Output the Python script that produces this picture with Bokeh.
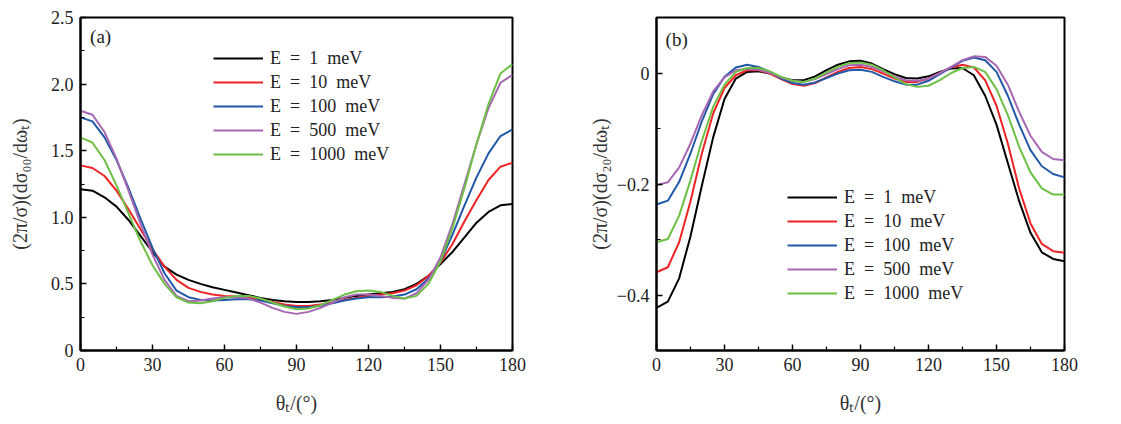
from bokeh.plotting import figure
from bokeh.layouts import row
from bokeh.models import FixedTicker, Legend, LegendItem, Label, Range1d
from bokeh.embed import file_html
from bokeh.resources import INLINE

# ---------------- data ----------------
theta = list(range(0, 181, 5))
SP = "\u2002"
labels = ["E" + SP + "=" + SP + "1\u2002meV", "E" + SP + "=" + SP + "10\u2002meV",
          "E" + SP + "=" + SP + "100\u2002meV", "E" + SP + "=" + SP + "500\u2002meV",
          "E" + SP + "=" + SP + "1000\u2002meV"]
colors = ["#000000", "#ee2424", "#2258a8", "#a767b3", "#6dbf45"]

a_E1 = [1.21, 1.20, 1.15, 1.08, 0.98, 0.86, 0.74, 0.63, 0.57, 0.53, 0.50, 0.475, 0.455,
        0.435, 0.415, 0.395, 0.38, 0.37, 0.365, 0.365, 0.37, 0.38, 0.395, 0.41, 0.42,
        0.43, 0.44, 0.46, 0.50, 0.56, 0.65, 0.74, 0.85, 0.96, 1.04, 1.09, 1.10]
a_E10 = [1.39, 1.37, 1.31, 1.20, 1.06, 0.91, 0.76, 0.63, 0.53, 0.47, 0.44, 0.42, 0.41,
         0.405, 0.40, 0.385, 0.365, 0.345, 0.335, 0.335, 0.345, 0.36, 0.38, 0.395, 0.41,
         0.42, 0.43, 0.45, 0.49, 0.56, 0.66, 0.80, 0.97, 1.13, 1.28, 1.38, 1.41]
a_E100 = [1.75, 1.72, 1.60, 1.43, 1.22, 0.99, 0.77, 0.58, 0.45, 0.40, 0.38, 0.375, 0.38,
          0.385, 0.385, 0.375, 0.355, 0.335, 0.325, 0.325, 0.335, 0.355, 0.375, 0.39, 0.40,
          0.40, 0.405, 0.42, 0.46, 0.54, 0.67, 0.87, 1.09, 1.30, 1.48, 1.61, 1.66]
a_E500 = [1.80, 1.77, 1.64, 1.44, 1.20, 0.95, 0.72, 0.53, 0.41, 0.37, 0.375, 0.39, 0.40,
          0.40, 0.39, 0.36, 0.32, 0.29, 0.275, 0.29, 0.32, 0.36, 0.40, 0.42, 0.42,
          0.41, 0.395, 0.39, 0.43, 0.53, 0.70, 0.95, 1.25, 1.55, 1.82, 2.01, 2.07]
a_E1000 = [1.60, 1.56, 1.43, 1.24, 1.03, 0.82, 0.64, 0.50, 0.40, 0.36, 0.355, 0.37, 0.395,
           0.41, 0.41, 0.39, 0.36, 0.33, 0.31, 0.315, 0.34, 0.38, 0.42, 0.445, 0.45,
           0.44, 0.41, 0.39, 0.41, 0.50, 0.67, 0.92, 1.22, 1.55, 1.85, 2.08, 2.15]

b_E1 = [-0.423, -0.412, -0.37, -0.294, -0.203, -0.116, -0.047, -0.01, 0.002, 0.003, -0.001,
        -0.008, -0.013, -0.013, -0.006, 0.005, 0.015, 0.021, 0.022, 0.017, 0.007, -0.002,
        -0.009, -0.01, -0.006, 0.002, 0.008, 0.009, -0.004, -0.041, -0.093, -0.162, -0.231,
        -0.288, -0.323, -0.335, -0.339]
b_E10 = [-0.359, -0.350, -0.305, -0.231, -0.145, -0.073, -0.027, -0.004, 0.005, 0.005, -0.001,
         -0.011, -0.02, -0.023, -0.018, -0.008, 0.002, 0.009, 0.011, 0.007, -0.001, -0.01,
         -0.016, -0.016, -0.01, 0.0, 0.01, 0.015, 0.01, -0.013, -0.059, -0.127, -0.208,
         -0.271, -0.308, -0.321, -0.324]
b_E100 = [-0.237, -0.230, -0.196, -0.145, -0.087, -0.038, -0.007, 0.01, 0.015, 0.011, 0.002,
          -0.01, -0.018, -0.021, -0.017, -0.009, -0.001, 0.005, 0.006, 0.002, -0.007, -0.015,
          -0.021, -0.021, -0.014, -0.002, 0.01, 0.022, 0.028, 0.023, 0.002, -0.041, -0.093,
          -0.139, -0.168, -0.182, -0.188]
b_E500 = [-0.202, -0.197, -0.17, -0.127, -0.076, -0.033, -0.008, 0.005, 0.007, 0.006, 0.0,
          -0.008, -0.014, -0.016, -0.011, -0.002, 0.007, 0.014, 0.015, 0.011, 0.003, -0.006,
          -0.013, -0.014, -0.01, 0.0, 0.011, 0.023, 0.03, 0.029, 0.013, -0.021, -0.07,
          -0.113, -0.142, -0.155, -0.157]
b_E1000 = [-0.305, -0.299, -0.257, -0.193, -0.122, -0.061, -0.021, 0.002, 0.009, 0.009, 0.003,
           -0.007, -0.014, -0.016, -0.01, 0.001, 0.011, 0.018, 0.019, 0.015, 0.005, -0.008,
           -0.02, -0.025, -0.023, -0.013, 0.0, 0.009, 0.011, 0.002, -0.029, -0.076, -0.133,
           -0.179, -0.208, -0.219, -0.219]

x_ticks = [0, 30, 60, 90, 120, 150, 180]
x_minor = [15, 45, 75, 105, 135, 165]
a_yticks = [0, 0.5, 1.0, 1.5, 2.0, 2.5]
a_yminor = [0.25, 0.75, 1.25, 1.75, 2.25]
a_ylabels = {0: "0", 0.5: "0.5", 1.0: "1.0", 1.5: "1.5", 2.0: "2.0", 2.5: "2.5"}
b_yticks = [-0.4, -0.2, 0]
b_yminor = [-0.5, -0.3, -0.1, 0.1]
b_ylabels = {-0.4: "\u22120.4", -0.2: "\u22120.2", 0: "0"}

SERIF = "Liberation Serif"


def make_panel(series, yr, yticks, yminor, ylabels, ylabel, tag, tag_y, leg_loc,
               width, borders, ylab_standoff):
    p = figure(width=width, height=416, output_backend="svg", toolbar_location=None,
               x_range=Range1d(0, 180), y_range=Range1d(*yr),
               min_border_left=borders[0], min_border_right=borders[1],
               min_border_top=borders[2], min_border_bottom=borders[3])
    p.grid.visible = False
    p.outline_line_color = "black"
    p.outline_line_width = 2
    p.background_fill_color = "white"
    p.border_fill_color = "white"
    for ax in (p.xaxis[0], p.yaxis[0]):
        ax.axis_line_width = 2
        ax.major_tick_in = 6
        ax.major_tick_out = 0
        ax.minor_tick_in = 4
        ax.minor_tick_out = 0
        ax.major_tick_line_width = 1.5
        ax.minor_tick_line_width = 1.2
        ax.major_label_text_font = SERIF
        ax.major_label_text_font_size = "18px"
        ax.major_label_text_color = "#222222"
        ax.axis_label_text_font = SERIF
        ax.axis_label_text_font_style = "normal"
        ax.axis_label_text_font_size = "20px"
        ax.axis_label_text_color = "#333333"
        ax.major_label_standoff = 7
    p.xaxis[0].ticker = FixedTicker(ticks=x_ticks, minor_ticks=x_minor)
    p.yaxis[0].ticker = FixedTicker(ticks=yticks, minor_ticks=yminor)
    p.yaxis[0].major_label_overrides = ylabels
    p.xaxis[0].axis_label = "\u03b8\u209c/(\u00b0)"
    p.xaxis[0].axis_label_standoff = 18
    p.yaxis[0].axis_label = ylabel
    p.yaxis[0].axis_label_standoff = ylab_standoff

    items = []
    for ys, c, lab in zip(series, colors, labels):
        r = p.line(theta, ys, line_color=c, line_width=2)
        items.append(LegendItem(label=lab, renderers=[r]))
    leg = Legend(items=items, location=leg_loc, border_line_color=None,
                 background_fill_alpha=0, padding=0, margin=0, spacing=0,
                 glyph_width=50, glyph_height=24, label_height=24, label_standoff=7,
                 label_text_font=SERIF, label_text_font_size="18px",
                 label_text_color="#222222")
    p.add_layout(leg, "center")
    p.add_layout(Label(x=4, y=tag_y, text=tag, text_font=SERIF, text_font_size="19px",
                       text_baseline="middle", text_align="left", text_color="#222222"))
    return p


p1 = make_panel([a_E1, a_E10, a_E100, a_E500, a_E1000], (0, 2.5), a_yticks, a_yminor,
                a_ylabels, "(2\u03c0/\u03c3)(d\u03c3\u2080\u2080/d\u03c9\u209c)", "(a)", 2.36,
                (133, 184), 560, (80, 48, 17, 48), 17)
p2 = make_panel([b_E1, b_E10, b_E100, b_E500, b_E1000], (-0.5, 0.1), b_yticks, b_yminor,
                b_ylabels, "(2\u03c0/\u03c3)(d\u03c3\u2082\u2080/d\u03c9\u209c)", "(b)", 0.06,
                (131, 45), 553, (96, 49, 15, 53), 3)

layout = row(p1, p2)
open("out.html", "w").write(file_html(layout, INLINE))
